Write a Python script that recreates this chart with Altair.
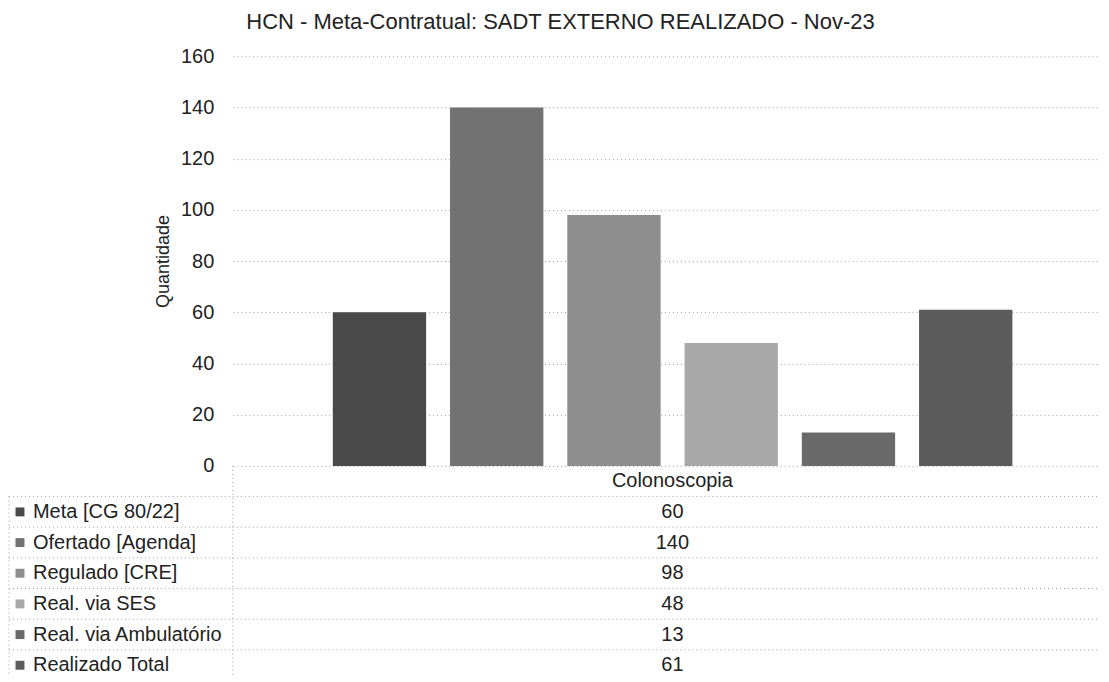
import altair as alt
import pandas as pd

title_text = "HCN - Meta-Contratual: SADT EXTERNO REALIZADO - Nov-23"
category = "Colonoscopia"
series = ["Meta [CG 80/22]", "Ofertado [Agenda]", "Regulado [CRE]",
          "Real. via SES", "Real. via Ambulatório", "Realizado Total"]
values = [60, 140, 98, 48, 13, 61]
colors = ["#4a4a4a", "#727272", "#8e8e8e", "#a9a9a9", "#6a6a6a", "#5c5c5c"]
y_ticks = [0, 20, 40, 60, 80, 100, 120, 140, 160]

FONT = "Liberation Sans"
TXT = "#222222"
GRID = "#a0a0a0"
W = 868
H_TOP = 410
H_TAB = 209
ROW = 30.7

bars_df = pd.DataFrame({"serie": series, "valor": values})
color_scale = alt.Scale(domain=series, range=colors)

bars = alt.Chart(bars_df).mark_bar().encode(
    x=alt.X("serie:N", sort=series, axis=None,
            scale=alt.Scale(paddingInner=0.204, paddingOuter=0.8, align=0.533)),
    y=alt.Y("valor:Q", title="Quantidade",
            scale=alt.Scale(domain=[0, 160], nice=False),
            axis=alt.Axis(values=y_ticks, grid=True, gridDash=[1, 3], gridColor=GRID,
                          domain=False, ticks=False, labelPadding=19,
                          labelFontSize=20, labelFont=FONT, labelColor=TXT,
                          titleFontSize=18, titleFont=FONT, titleColor=TXT,
                          titleFontWeight="normal", titlePadding=8)),
    color=alt.Color("serie:N", scale=color_scale, legend=None),
).properties(width=W, height=H_TOP)

rows = [category] + series
cells = [category] + [str(v) for v in values]
tab_df = pd.DataFrame({"row": rows, "cell": cells})
ser_df = pd.DataFrame({"row": series, "serie": series})

yrow = alt.Y("row:N", sort=rows, axis=None,
             scale=alt.Scale(domain=rows, range=[0, ROW * 7], paddingInner=0, paddingOuter=0))

cell_text = alt.Chart(tab_df).mark_text(
    fontSize=20, font=FONT, color=TXT, align="center", baseline="middle"
).encode(y=yrow, x=alt.value(440), text="cell:N")

label_text = alt.Chart(ser_df).mark_text(
    fontSize=20, font=FONT, color=TXT, align="left", baseline="middle"
).encode(y=yrow, x=alt.value(-200), text="serie:N")

squares = alt.Chart(ser_df).mark_square(size=80, opacity=1).encode(
    y=yrow, x=alt.value(-213),
    color=alt.Color("serie:N", scale=color_scale, legend=None))

hlines = alt.Chart(ser_df).mark_rule(color=GRID, strokeDash=[1, 3], strokeWidth=1).encode(
    y=alt.Y("row:N", sort=rows, axis=None, bandPosition=0,
            scale=alt.Scale(domain=rows, range=[0, ROW * 7], paddingInner=0, paddingOuter=0)),
    x=alt.value(-224), x2=alt.value(W))

vsep = alt.Chart(ser_df.head(1)).mark_rule(color=GRID, strokeDash=[1, 3], strokeWidth=1).encode(
    x=alt.value(0), y=alt.value(0), y2=alt.value(H_TAB))
vleft = alt.Chart(ser_df.head(1)).mark_rule(color=GRID, strokeDash=[1, 3], strokeWidth=1).encode(
    x=alt.value(-224), y=alt.value(ROW), y2=alt.value(H_TAB))

table = alt.layer(hlines, vsep, vleft, squares, label_text, cell_text).properties(
    width=W, height=H_TAB)

chart = alt.vconcat(bars, table, spacing=0, bounds="flush").properties(
    title=alt.TitleParams(title_text, fontSize=22, font=FONT, fontWeight="normal",
                          color=TXT, anchor="middle", offset=12, dx=6),
    padding={"left": 0, "top": 3, "right": 0, "bottom": 0},
).configure_view(stroke=None).configure_concat(spacing=0)

chart.save("out.html", embed_options={"renderer": "svg", "actions": False})
